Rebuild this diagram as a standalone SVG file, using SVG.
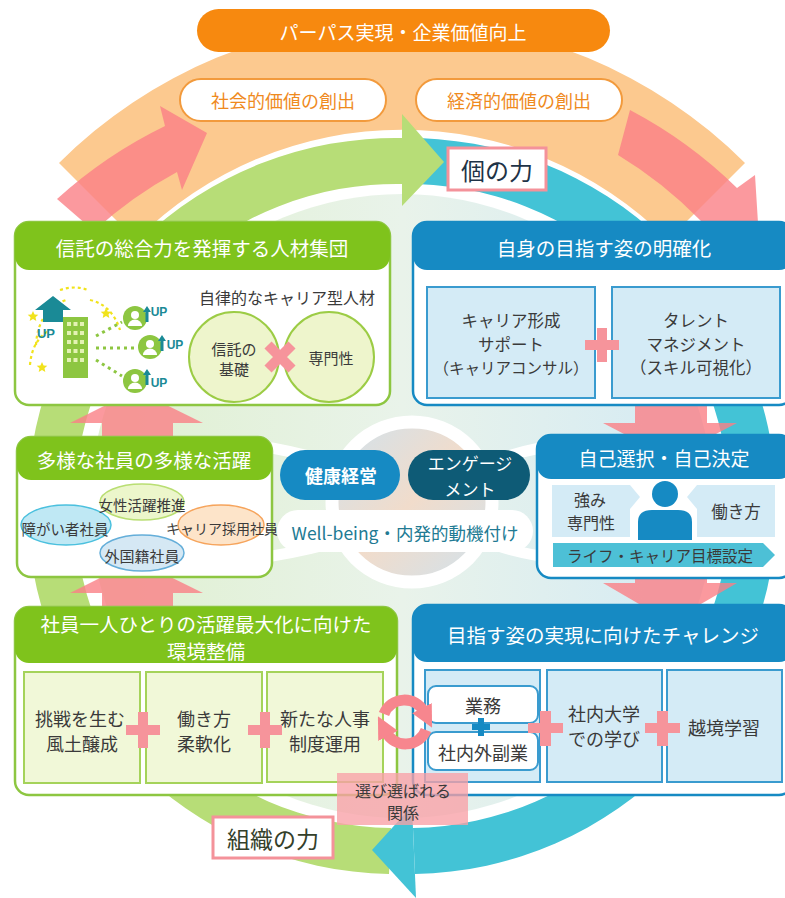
<svg xmlns="http://www.w3.org/2000/svg" width="785" height="898" viewBox="0 0 785 898">
  <defs>
    <style>
      text { font-family: "Noto Sans CJK JP", "Noto Sans", sans-serif; text-anchor: middle; dominant-baseline: central; }
      .hdr { fill: #ffffff; font-size: 19.5px; }
      .body { fill: #3a3a3a; font-size: 16.5px; }
      .small { fill: #3a3a3a; font-size: 14.5px; }
      .orange-txt { fill: #ef8a1e; font-size: 18px; }
      .g-box { fill: #ffffff; stroke: #8dc641; stroke-width: 2.5; }
      .g-hdr { fill: #7fc31c; }
      .b-box { fill: #ffffff; stroke: #168ac3; stroke-width: 2.5; }
      .b-hdr { fill: #168ac3; }
      .g-cell { fill: #f1f8d8; stroke: #a5d35a; stroke-width: 2; }
      .b-cell { fill: #d4ebf6; stroke: #3a9bcf; stroke-width: 2; }
      .pink-arrow { fill: #fa7f86; opacity: 0.8; }
      .plus { fill: #f6949b; }
      .tag { fill: #ffffff; stroke: #f4929a; stroke-width: 3; }
      .up { fill: #1a8a96; font-size: 12px; font-weight: bold; font-family: "Liberation Sans", sans-serif; }
    </style>
    <linearGradient id="interior" x1="0" y1="0" x2="1" y2="0">
      <stop offset="0" stop-color="#dff0cf"/>
      <stop offset="0.5" stop-color="#e9f3ea"/>
      <stop offset="1" stop-color="#d3eaf5"/>
    </linearGradient>
    <linearGradient id="core" x1="0" y1="0" x2="1" y2="1">
      <stop offset="0" stop-color="#cfe2ee"/>
      <stop offset="0.5" stop-color="#f1dccb"/>
      <stop offset="1" stop-color="#cfe2ee"/>
    </linearGradient>
    <marker id="cycle-head" viewBox="0 0 10 10" refX="2" refY="5" markerWidth="22" markerHeight="22" markerUnits="userSpaceOnUse" orient="auto">
      <path d="M0,0 L10,5 L0,10 Z" fill="#f7868e"/>
    </marker>
    <g id="badge">
      <circle r="12" fill="#8dc641"/>
      <circle cx="0" cy="-3" r="4" fill="#ffffff"/>
      <path d="M-7,8 A7,6.5 0 0 1 7,8 Z" fill="#ffffff"/>
    </g>
    <g id="up-arrow">
      <path d="M-4,0 L0,-6 L4,0 L1.5,0 L1.5,10 L-1.5,10 L-1.5,0 Z" fill="#1a8a96"/>
    </g>
  </defs>

  <rect width="785" height="898" fill="#ffffff"/>

  <!-- outer value band and its creation arrows -->
  <g id="value-band">
    <path d="M59,163 A485,485 0 0 1 745,163 L668,240 A376,376 0 0 0 136,240 Z" fill="#fcc98f"/>
    <path class="pink-arrow" d="M57,199 A462,462 0 0 1 165,126 L160,106 L207,133 L182,190 L177,172 A413,413 0 0 0 94,231 Z"/>
    <path class="pink-arrow" d="M630,110 A457,457 0 0 1 737,188 L755,175 L760,255 L692,225 L701,221 A413,413 0 0 0 618,155 Z"/>
  </g>

  <!-- inner cycle: individual strength / organisational strength -->
  <g id="cycle-ring">
    <circle cx="402" cy="506" r="312" fill="url(#interior)"/>
    <path d="M402,138 A368,368 0 0 1 415,874 L413,828 A322,322 0 0 0 402,184 Z" fill="#43c3d6"/>
    <path d="M389,874 A368,368 0 0 1 402,138 L402,114 L444,162 L402,206 L402,184 A322,322 0 0 0 391,828 Z" fill="#b7dd77"/>
    <path d="M412,806 L416,898 L372,850 Z" fill="#43c3d6"/>
  </g>

  <!-- hub links -->
  <g id="hub-links" fill="none" stroke="#ffffff" stroke-width="11" stroke-linecap="round">
    <path d="M272,448 Q310,455 342,466"/>
    <path d="M272,556 Q310,550 342,540"/>
    <path d="M540,448 Q505,455 482,466"/>
    <path d="M540,556 Q505,550 482,540"/>
  </g>

  <g id="hub">
    <circle cx="412" cy="502" r="80" fill="url(#core)" stroke="#ffffff" stroke-width="13"/>
  </g>

  <!-- flow arrows between stages -->
  <g id="stage-arrows">
    <path class="pink-arrow" d="M102,440 L102,423 L70,423 L136,390 L203,423 L173,423 L173,440 Z"/>
    <path class="pink-arrow" d="M102,610 L102,593 L70,593 L136,560 L203,593 L173,593 L173,610 Z"/>
    <path class="pink-arrow" d="M635,400 L635,423 L603,423 L670,458 L737,423 L707,423 L707,400 Z"/>
    <path class="pink-arrow" d="M635,570 L635,583 L603,583 L670,622 L737,583 L707,583 L707,570 Z"/>
  </g>

  <!-- top purpose banner -->
  <g id="purpose">
    <rect x="197" y="9" width="413" height="43" rx="21.5" fill="#f7890f"/>
    <text x="403" y="31" class="hdr" style="font-size:19px">パーパス実現・企業価値向上</text>
  </g>
  <g id="social-value">
    <rect x="180" y="79" width="206" height="42" rx="21" fill="#ffffff" stroke="#f29a3c" stroke-width="2"/>
    <text x="283" y="100" class="orange-txt">社会的価値の創出</text>
  </g>
  <g id="economic-value">
    <rect x="416" y="79" width="206" height="42" rx="21" fill="#ffffff" stroke="#f29a3c" stroke-width="2"/>
    <text x="519" y="100" class="orange-txt">経済的価値の創出</text>
  </g>

  <g id="individual-label">
    <rect class="tag" x="448" y="148" width="98" height="42"/>
    <text x="497" y="169" style="fill:#1e3347;font-size:24px">個の力</text>
  </g>

  <!-- stage 1: trust talent group -->
  <g id="talent-group">
    <rect class="g-box" x="15" y="222" width="375" height="183" rx="14"/>
    <rect class="g-hdr" x="15" y="222" width="375" height="48" rx="14"/>
    <text x="202" y="247" class="hdr">信託の総合力を発揮する人材集団</text>
    <text x="287" y="297" class="body" style="font-size:16px">自律的なキャリア型人材</text>
    <circle cx="234" cy="357" r="45" fill="#eef5cc" stroke="#9ccc45" stroke-width="2"/>
    <circle cx="329" cy="357" r="45" fill="#eef5cc" stroke="#9ccc45" stroke-width="2"/>
    <path d="M268,345 L292,369 M292,345 L268,369" stroke="#f6949b" stroke-width="10"/>
    <text x="234" y="348" class="small" style="font-size:15px">信託の</text>
    <text x="234" y="368" class="small" style="font-size:15px">基礎</text>
    <text x="331" y="357" class="small" style="font-size:15px">専門性</text>
    <!-- company illustration -->
    <g fill="none" stroke="#f1e31c" stroke-width="2.2" stroke-dasharray="3 3">
      <path d="M36,345 Q38,310 66,300"/>
      <path d="M90,300 Q112,305 120,330"/>
      <path d="M30,365 Q32,340 50,330"/>
      <path d="M60,290 Q75,285 88,290"/>
    </g>
    <g fill="none" stroke="#8dc641" stroke-width="3" stroke-dasharray="3 4">
      <path d="M96,336 L122,322"/>
      <path d="M96,348 L136,348"/>
      <path d="M96,360 L122,376"/>
    </g>
    <rect x="63" y="317" width="25" height="61" fill="#8dc641"/>
    <g fill="#e3f2b4">
      <rect x="67" y="322" width="4" height="4"/><rect x="73.5" y="322" width="4" height="4"/><rect x="80" y="322" width="4" height="4"/>
      <rect x="67" y="331" width="4" height="4"/><rect x="73.5" y="331" width="4" height="4"/><rect x="80" y="331" width="4" height="4"/>
      <rect x="67" y="340" width="4" height="4"/><rect x="73.5" y="340" width="4" height="4"/><rect x="80" y="340" width="4" height="4"/>
      <rect x="67" y="349" width="4" height="4"/><rect x="73.5" y="349" width="4" height="4"/><rect x="80" y="349" width="4" height="4"/>
      <rect x="67" y="358" width="4" height="4"/><rect x="73.5" y="358" width="4" height="4"/><rect x="80" y="358" width="4" height="4"/>
    </g>
    <path d="M35,310 L53,296 L71,310 L63,310 L63,322 L43,322 L43,310 Z" fill="#1a8a96"/>
    <text x="46" y="333" class="up" style="font-size:13px">UP</text>
    <g fill="#f1e31c">
      <path d="M33,311 l1.6,3.4 3.7,0.4 -2.8,2.5 0.8,3.7 -3.3,-1.9 -3.3,1.9 0.8,-3.7 -2.8,-2.5 3.7,-0.4 Z"/>
      <path d="M106,308 l1.6,3.4 3.7,0.4 -2.8,2.5 0.8,3.7 -3.3,-1.9 -3.3,1.9 0.8,-3.7 -2.8,-2.5 3.7,-0.4 Z"/>
      <path d="M42,362 l1.6,3.4 3.7,0.4 -2.8,2.5 0.8,3.7 -3.3,-1.9 -3.3,1.9 0.8,-3.7 -2.8,-2.5 3.7,-0.4 Z"/>
    </g>
    <use href="#badge" x="135" y="318"/>
    <use href="#badge" x="150" y="347"/>
    <use href="#badge" x="135" y="381"/>
    <use href="#up-arrow" x="147" y="312"/>
    <use href="#up-arrow" x="162" y="341"/>
    <use href="#up-arrow" x="147" y="375"/>
    <text x="159" y="312" class="up">UP</text>
    <text x="175" y="345" class="up">UP</text>
    <text x="159" y="383" class="up">UP</text>
  </g>

  <!-- stage 2: clarifying one's goal -->
  <g id="goal-clarity">
    <rect class="b-box" x="413" y="222" width="380" height="183" rx="14"/>
    <rect class="b-hdr" x="413" y="222" width="380" height="48" rx="14"/>
    <text x="604" y="247" class="hdr">自身の目指す姿の明確化</text>
    <rect class="b-cell" x="427" y="287" width="168" height="111"/>
    <rect class="b-cell" x="612" y="287" width="168" height="111"/>
    <text x="511" y="320" class="body">キャリア形成</text>
    <text x="511" y="344" class="body">サポート</text>
    <text x="511" y="367" class="body" style="font-size:15.5px">（キャリアコンサル）</text>
    <text x="696" y="320" class="body">タレント</text>
    <text x="696" y="344" class="body">マネジメント</text>
    <text x="696" y="367" class="body">（スキル可視化）</text>
    <path class="plus" d="M597,328 h10 v12 h12 v10 h-12 v12 h-10 v-12 h-12 v-10 h12 Z"/>
  </g>

  <!-- stage: diverse employees -->
  <g id="diversity">
    <rect class="g-box" x="17" y="437" width="255" height="140" rx="14"/>
    <rect class="g-hdr" x="17" y="437" width="255" height="43" rx="14"/>
    <text x="144" y="459" class="hdr">多様な社員の多様な活躍</text>
    <ellipse cx="142" cy="502" rx="42" ry="18" fill="#ecf6cb" stroke="#b9de73" stroke-width="1.5"/>
    <ellipse cx="66" cy="525" rx="45" ry="20" fill="#bfe8f4" stroke="#4bc0de" stroke-width="1.5"/>
    <ellipse cx="221" cy="525" rx="43" ry="20" fill="#fde4c9" stroke="#f6a45c" stroke-width="1.5"/>
    <ellipse cx="142" cy="553" rx="42" ry="18" fill="#d5e8f4" stroke="#64aed9" stroke-width="1.5"/>
    <text x="142" y="504" class="small" style="font-size:14.5px">女性活躍推進</text>
    <text x="65" y="528" class="small" style="font-size:14.5px">障がい者社員</text>
    <text x="222" y="528" class="small" style="font-size:14px">キャリア採用社員</text>
    <text x="142" y="555" class="small" style="font-size:15px">外国籍社員</text>
  </g>

  <!-- hub items -->
  <g id="health-management">
    <rect x="280" y="450" width="120" height="50" rx="25" fill="#168ac3"/>
    <text x="341" y="475" style="fill:#ffffff;font-size:18px;font-weight:bold">健康経営</text>
  </g>
  <g id="engagement">
    <rect x="408" y="450" width="122" height="50" rx="25" fill="#0e5b76"/>
    <text x="470" y="462" style="fill:#ffffff;font-size:17px">エンゲージ</text>
    <text x="470" y="488" style="fill:#ffffff;font-size:17px">メント</text>
  </g>
  <g id="wellbeing">
    <rect x="277" y="510" width="256" height="42" rx="21" fill="#ffffff"/>
    <text x="405" y="532" style="fill:#217a93;font-size:17.5px">Well-being・内発的動機付け</text>
  </g>

  <!-- stage 3: self-selection -->
  <g id="self-decision">
    <rect class="b-box" x="537" y="435" width="256" height="143" rx="14"/>
    <rect class="b-hdr" x="537" y="435" width="256" height="44" rx="14"/>
    <text x="664" y="457" class="hdr" style="font-size:19px">自己選択・自己決定</text>
    <path d="M552,485 L630,485 L640,497 L630,509 L630,537 L552,537 Z" fill="#d4ebf6"/>
    <path d="M775,485 L697,485 L687,497 L697,509 L697,537 L775,537 Z" fill="#d4ebf6"/>
    <circle cx="665" cy="494" r="13" fill="#168ac3"/>
    <path d="M638,540 L638,522 Q638,510 652,510 L678,510 Q692,510 692,522 L692,540 Z" fill="#168ac3"/>
    <text x="590" y="499" class="body" style="font-size:16px">強み</text>
    <text x="591" y="522" class="body" style="font-size:16px">専門性</text>
    <text x="736" y="511" class="body" style="font-size:16.5px">働き方</text>
    <path d="M553,543 L763,543 L775,555 L763,567 L553,567 Z" fill="#4dc0d6"/>
    <text x="660" y="555" class="body" style="font-size:15.5px">ライフ・キャリア目標設定</text>
  </g>

  <!-- stage 4: environment -->
  <g id="environment">
    <rect class="g-box" x="15" y="607" width="382" height="188" rx="14"/>
    <rect class="g-hdr" x="15" y="607" width="382" height="56" rx="14"/>
    <text x="206" y="623" class="hdr">社員一人ひとりの活躍最大化に向けた</text>
    <text x="206" y="650" class="hdr">環境整備</text>
    <rect class="g-cell" x="24" y="672" width="116" height="111"/>
    <rect class="g-cell" x="146" y="672" width="116" height="111"/>
    <rect class="g-cell" x="267" y="672" width="116" height="110"/>
    <text x="80" y="718" class="body" style="font-size:18px">挑戦を生む</text>
    <text x="82" y="743" class="body" style="font-size:18px">風土醸成</text>
    <text x="204" y="718" class="body" style="font-size:18px">働き方</text>
    <text x="204" y="743" class="body" style="font-size:18px">柔軟化</text>
    <text x="325" y="718" class="body" style="font-size:18px">新たな人事</text>
    <text x="325" y="743" class="body" style="font-size:18px">制度運用</text>
    <path class="plus" d="M138,712 h10 v13 h12 v10 h-12 v13 h-10 v-13 h-12 v-10 h12 Z"/>
    <path class="plus" d="M260,712 h10 v13 h12 v10 h-12 v13 h-10 v-13 h-12 v-10 h12 Z"/>
  </g>

  <!-- stage 5: challenge -->
  <g id="challenge">
    <rect class="b-box" x="413" y="605" width="380" height="190" rx="14"/>
    <rect class="b-hdr" x="413" y="605" width="380" height="57" rx="14"/>
    <text x="603" y="634" class="hdr">目指す姿の実現に向けたチャレンジ</text>
    <rect class="b-cell" x="425" y="670" width="115" height="112"/>
    <rect class="b-cell" x="547" y="670" width="115" height="112"/>
    <rect class="b-cell" x="667" y="670" width="115" height="112"/>
    <rect x="428" y="686" width="110" height="37" rx="8" fill="#ffffff" stroke="#3a9bcf" stroke-width="2"/>
    <rect x="428" y="732" width="110" height="38" rx="8" fill="#ffffff" stroke="#3a9bcf" stroke-width="2"/>
    <text x="483" y="705" class="body" style="font-size:18px">業務</text>
    <text x="483" y="752" class="body" style="font-size:18px">社内外副業</text>
    <path d="M478,718 h6 v6 h6 v6 h-6 v6 h-6 v-6 h-6 v-6 h6 Z" fill="#168ac3"/>
    <text x="604" y="713" class="body" style="font-size:18px">社内大学</text>
    <text x="604" y="738" class="body" style="font-size:18px">での学び</text>
    <text x="724" y="727" class="body" style="font-size:18px">越境学習</text>
    <path class="plus" d="M540,711 h11 v12 h12 v10 h-12 v13 h-11 v-13 h-12 v-10 h12 Z"/>
    <path class="plus" d="M657,711 h11 v12 h12 v10 h-12 v13 h-11 v-13 h-12 v-10 h12 Z"/>
  </g>

  <!-- mutual choice cycle -->
  <g id="mutual-cycle" fill="none" stroke="#f7868e" stroke-width="11">
    <path d="M384,714 A22,22 0 0 1 424,712" marker-end="url(#cycle-head)"/>
    <path d="M426,730 A22,22 0 0 1 386,732" marker-end="url(#cycle-head)"/>
  </g>
  <g id="mutual-choice">
    <rect x="337" y="773" width="131" height="52" fill="#f9a0a6" opacity="0.78"/>
    <text x="403" y="790" class="body" style="font-size:16px">選び選ばれる</text>
    <text x="403" y="812" class="body" style="font-size:16px">関係</text>
  </g>

  <g id="organization-label">
    <rect class="tag" x="213" y="817" width="120" height="41"/>
    <text x="273" y="838" style="fill:#34402a;font-size:23px">組織の力</text>
  </g>
</svg>
